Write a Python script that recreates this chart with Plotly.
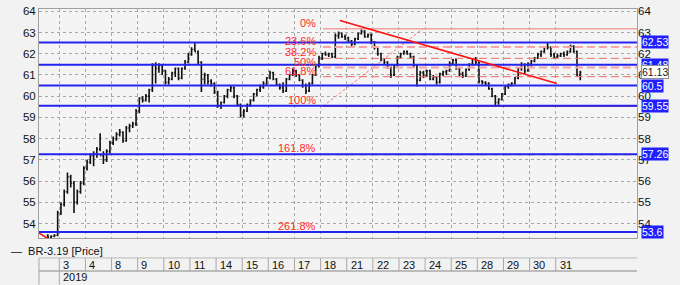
import plotly.graph_objects as go

# ---------------- data ----------------
day_labels = ["3", "4", "8", "9", "10", "11", "14", "15", "16", "17", "18",
              "21", "22", "23", "24", "25", "28", "29", "30", "31"]
year_label = "2019"
series_name = "BR-3.19 [Price]"
bars_per_day = 8

# first (partial, unlabeled) session: 4 bars, then 8 bars per labelled day
opens = [
    53.45, 53.35, 53.4, 53.45,
    54.5, 54.9, 55.5, 56.2, 55.9, 55.0, 55.5, 55.9,
    56.6, 56.9, 57.2, 57.3, 57.5, 57.2, 57.0, 57.4,
    57.8, 58.0, 58.2, 58.3, 57.9, 58.5, 58.6, 58.7,
    59.3, 59.9, 59.8, 60.0, 60.3, 61.45, 61.3, 61.45,
    61.2, 60.65, 60.8, 61.1, 61.3, 60.85, 61.3, 61.6,
    61.95, 62.2, 62.1, 61.6, 60.8, 61.0, 60.7, 60.6,
    60.2, 59.55, 59.7, 60.0, 60.3, 60.4, 60.0, 59.6,
    59.1, 59.3, 59.6, 59.8, 60.1, 60.3, 60.45, 60.6,
    60.85, 61.1, 60.8, 60.55, 60.4, 60.25, 60.8, 61.0,
    61.2, 61.0, 60.75, 60.5, 60.25, 60.6, 61.0, 61.4,
    61.8, 62.0, 61.95, 62.0, 61.85, 62.85, 62.95, 62.8,
    62.75, 62.6, 62.45, 62.7, 62.95, 63.05, 62.8, 62.9,
    62.55, 62.3, 62.0, 61.75, 61.6, 61.35, 61.0, 61.45,
    61.85, 62.0, 62.1, 62.0, 61.85, 61.45, 60.75, 61.1,
    60.95, 61.2, 60.8, 60.9, 60.65, 61.05, 61.15, 61.2,
    61.55, 61.7, 61.3, 61.05, 60.95, 61.25, 61.5, 61.75,
    61.6, 60.7, 60.65, 60.6, 60.35, 60.0, 59.7, 59.85,
    60.1, 60.45, 60.55, 60.6, 60.85, 61.3, 61.5, 61.2,
    61.5, 61.65, 61.8, 61.95, 62.1, 62.3, 62.3, 61.95,
    61.85, 61.9, 62.0, 61.95, 62.1, 62.35, 62.1, 61.0,
]
highs = [
    53.5, 53.45, 53.5, 54.6,
    55.0, 55.6, 56.4, 56.3, 56.0, 55.6, 56.0, 56.7,
    57.0, 57.3, 57.4, 57.6, 58.25, 57.4, 57.5, 57.9,
    58.1, 58.3, 58.45, 58.35, 58.6, 58.7, 58.8, 59.4,
    59.95, 60.0, 60.1, 60.35, 61.55, 61.6, 61.55, 61.5,
    61.25, 60.9, 61.15, 61.35, 61.35, 61.35, 61.7, 62.05,
    62.3, 62.5, 62.15, 61.65, 61.1, 61.05, 60.8, 60.65,
    60.25, 59.75, 60.05, 60.35, 60.5, 60.45, 60.05, 59.65,
    59.4, 59.65, 59.85, 60.15, 60.35, 60.55, 60.7, 60.9,
    61.2, 61.15, 60.85, 60.6, 60.65, 60.85, 61.05, 61.3,
    61.25, 61.05, 60.8, 60.6, 60.65, 61.05, 61.45, 61.9,
    62.05, 62.1, 62.05, 62.05, 62.95, 63.05, 63.0, 62.9,
    62.8, 62.65, 62.75, 63.0, 63.15, 63.1, 62.95, 62.95,
    62.6, 62.35, 62.05, 61.8, 61.65, 61.4, 61.5, 61.9,
    62.05, 62.15, 62.15, 62.05, 61.9, 61.5, 61.2, 61.2,
    61.25, 61.25, 61.0, 60.95, 61.1, 61.2, 61.25, 61.65,
    61.75, 61.75, 61.35, 61.15, 61.3, 61.55, 61.8, 61.85,
    61.65, 60.75, 60.7, 60.65, 60.4, 60.05, 59.9, 60.15,
    60.5, 60.6, 60.65, 60.9, 61.35, 61.6, 61.55, 61.6,
    61.7, 61.85, 62.05, 62.15, 62.35, 62.5, 62.35, 62.05,
    62.0, 62.05, 62.1, 62.15, 62.42, 62.4, 62.15, 61.2,
]
lows = [
    53.3, 53.3, 53.35, 53.4,
    54.4, 54.8, 55.4, 55.7, 54.5, 54.9, 55.4, 55.8,
    56.5, 56.8, 56.7, 57.1, 57.4, 56.8, 56.9, 57.3,
    57.7, 57.9, 58.1, 57.8, 57.85, 58.3, 58.5, 58.6,
    59.2, 59.7, 59.75, 59.7, 60.2, 60.6, 61.1, 61.0,
    60.55, 60.55, 60.75, 60.9, 60.75, 60.8, 61.25, 61.55,
    61.9, 62.1, 61.5, 60.2, 60.55, 60.55, 60.45, 60.1,
    59.45, 59.4, 59.65, 59.9, 60.2, 59.9, 59.55, 59.0,
    59.0, 59.25, 59.5, 59.75, 60.0, 60.2, 60.35, 60.5,
    60.8, 60.75, 60.5, 60.3, 60.15, 60.2, 60.75, 60.95,
    60.9, 60.7, 60.4, 60.1, 60.2, 60.55, 60.95, 61.35,
    61.7, 61.9, 61.85, 61.8, 61.8, 62.7, 62.75, 62.65,
    62.55, 62.35, 62.4, 62.65, 62.9, 62.75, 62.75, 62.45,
    62.2, 61.9, 61.65, 61.5, 61.3, 60.85, 60.95, 61.4,
    61.8, 61.95, 61.95, 61.8, 61.35, 60.45, 60.7, 60.85,
    60.9, 60.75, 60.75, 60.55, 60.6, 60.95, 61.0, 61.15,
    61.5, 61.25, 60.95, 60.85, 60.9, 61.2, 61.45, 61.5,
    60.6, 60.55, 60.5, 60.3, 59.95, 59.57, 59.6, 59.8,
    60.05, 60.35, 60.45, 60.55, 60.8, 61.2, 61.05, 61.15,
    61.4, 61.6, 61.75, 61.85, 62.05, 62.2, 61.85, 61.75,
    61.8, 61.85, 61.85, 61.9, 62.05, 62.05, 60.95, 60.75,
]
closes = [
    53.35, 53.4, 53.45, 54.5,
    54.9, 55.5, 56.2, 55.9, 55.0, 55.5, 55.9, 56.6,
    56.9, 57.2, 57.3, 57.5, 57.2, 57.0, 57.4, 57.8,
    58.0, 58.2, 58.3, 57.9, 58.5, 58.6, 58.7, 59.3,
    59.9, 59.8, 60.0, 60.3, 61.45, 61.3, 61.45, 61.2,
    60.65, 60.8, 61.1, 61.3, 60.85, 61.3, 61.6, 61.95,
    62.2, 62.1, 61.6, 60.8, 61.0, 60.7, 60.6, 60.2,
    59.55, 59.7, 60.0, 60.3, 60.4, 60.0, 59.6, 59.1,
    59.3, 59.6, 59.8, 60.1, 60.3, 60.45, 60.6, 60.85,
    61.1, 60.8, 60.55, 60.4, 60.25, 60.8, 61.0, 61.2,
    61.0, 60.75, 60.5, 60.25, 60.6, 61.0, 61.4, 61.8,
    62.0, 61.95, 62.0, 61.85, 62.85, 62.95, 62.8, 62.75,
    62.6, 62.45, 62.7, 62.95, 63.05, 62.8, 62.9, 62.55,
    62.3, 62.0, 61.75, 61.6, 61.35, 61.0, 61.45, 61.85,
    62.0, 62.1, 62.0, 61.85, 61.45, 60.75, 61.1, 60.95,
    61.2, 60.8, 60.9, 60.65, 61.05, 61.15, 61.2, 61.55,
    61.7, 61.3, 61.05, 60.95, 61.25, 61.5, 61.75, 61.6,
    60.7, 60.65, 60.6, 60.35, 60.0, 59.7, 59.85, 60.1,
    60.45, 60.55, 60.6, 60.85, 61.3, 61.5, 61.2, 61.5,
    61.65, 61.8, 61.95, 62.1, 62.3, 62.3, 61.95, 61.85,
    61.9, 62.0, 61.95, 62.1, 62.35, 62.1, 61.0, 61.13,
]

# horizontal support / resistance levels (blue)
levels = [62.53, 61.48, 60.5, 59.55, 57.26, 53.6]
# Fibonacci retracement
fib_high = 63.18
fib_low = 59.52
fib_ratios = [0.0, 0.236, 0.382, 0.5, 0.618, 1.0, 1.618, 2.618]
fib_labels = ["0%", "23.6%", "38.2%", "50%", "61.8%", "100%", "161.8%", "261.8%"]
fib_start_day = 10.09          # position (in day units) where the fib grid starts
fib_diag_end_day = 13.92
# trend lines (day position, price)
trend_start = (10.74, 63.565)
trend_end = (19.04, 60.60)
trend2_start = (-0.777, 53.55)
trend2_end = (-0.47, 53.32)
y_ticks = list(range(54, 65))

# ---------------- geometry ----------------
XMIN, XMAX = -0.777, 22.109
YMIN, YMAX = 53.319, 64.106
W, H = 680, 285
ML, MR, MT, MB = 39, 43, 5, 47
PLOT_H = H - MT - MB


def xp(day_pos):
    return (day_pos - XMIN) / (XMAX - XMIN)


def yp(pixel_y):
    return (H - MB - pixel_y) / PLOT_H


n_first = len(closes) - bars_per_day * len(day_labels)
bar_x = [-1 + (bars_per_day - n_first + i + 0.5) / bars_per_day for i in range(n_first)]
for d in range(len(day_labels)):
    for i in range(bars_per_day):
        bar_x.append(d + (i + 0.5) / bars_per_day)

FONT = "Liberation Sans, Arial, sans-serif"

fig = go.Figure()
fig.add_trace(go.Ohlc(
    x=bar_x, open=opens, high=highs, low=lows, close=closes,
    increasing=dict(line=dict(color="#111111", width=1.6)),
    decreasing=dict(line=dict(color="#111111", width=1.6)),
    tickwidth=0.35, hoverinfo="skip", showlegend=False,
))
fig.add_trace(go.Scatter(
    x=[bar_x[-1]], y=[closes[-1]], yaxis="y2", mode="markers",
    marker=dict(opacity=0), hoverinfo="skip", showlegend=False,
))

shapes = []
fib_range = fib_high - fib_low
fib_levels = [fib_high - r * fib_range for r in fib_ratios]
fib_styles = {
    "0%": dict(color="#f2a0a0", width=1.5, dash="solid"),
    "23.6%": dict(color="#f4a4a4", width=2, dash="8px,4px"),
    "38.2%": dict(color="#f06a6a", width=1, dash="8px,4px"),
    "50%": dict(color="#f4a4a4", width=2, dash="8px,4px"),
    "61.8%": dict(color="#f06a6a", width=1, dash="8px,4px"),
    "100%": dict(color="#ff2020", width=1, dash="solid"),
    "161.8%": dict(color="#f08080", width=1.5, dash="8px,4px"),
    "261.8%": dict(color="#f08080", width=1.5, dash="8px,4px"),
}
for lab, lv in zip(fib_labels, fib_levels):
    shapes.append(dict(type="line", xref="x", yref="y", x0=fib_start_day, x1=XMAX,
                       y0=lv, y1=lv, line=fib_styles[lab], layer="above"))
shapes.append(dict(type="line", xref="x", yref="y", x0=fib_start_day, y0=fib_low,
                   x1=fib_diag_end_day, y1=fib_high,
                   line=dict(color="#f08080", width=1, dash="3px,2px"), layer="above"))
for lv in levels:
    shapes.append(dict(type="line", xref="paper", yref="y", x0=0, x1=1, y0=lv, y1=lv,
                       line=dict(color="#2424f0", width=2), layer="above"))
shapes.append(dict(type="line", xref="x", yref="y", x0=trend_start[0], y0=trend_start[1],
                   x1=trend_end[0], y1=trend_end[1], line=dict(color="#ff1010", width=1.6),
                   layer="above"))
shapes.append(dict(type="line", xref="x", yref="y", x0=trend2_start[0], y0=trend2_start[1],
                   x1=trend2_end[0], y1=trend2_end[1], line=dict(color="#ff1010", width=1.6),
                   layer="above"))

# bottom date table
row1_top, row1_bot, row2_bot = yp(258.3), yp(271.7), yp(285.5)
shapes.append(dict(type="line", xref="paper", yref="paper", x0=0, x1=1, y0=row1_top, y1=row1_top,
                   line=dict(color="#b8b8b8", width=1)))
shapes.append(dict(type="line", xref="paper", yref="paper", x0=0, x1=1, y0=row1_bot, y1=row1_bot,
                   line=dict(color="#bcbcbc", width=2)))
for d in range(len(day_labels)):
    shapes.append(dict(type="line", xref="paper", yref="paper", x0=xp(d), x1=xp(d),
                       y0=row1_top, y1=row1_bot, line=dict(color="#a8a8a8", width=1)))
shapes.append(dict(type="line", xref="paper", yref="paper", x0=0, x1=0,
                   y0=row1_top, y1=row2_bot, line=dict(color="#a8a8a8", width=1)))
shapes.append(dict(type="line", xref="paper", yref="paper", x0=xp(0), x1=xp(0),
                   y0=row1_bot, y1=row2_bot, line=dict(color="#a8a8a8", width=1)))

annotations = []
for lab, lv in zip(fib_labels, fib_levels):
    annotations.append(dict(x=fib_start_day - 0.23, y=lv, xref="x", yref="y", text=lab,
                            xanchor="right", yanchor="bottom", showarrow=False,
                            font=dict(family=FONT, size=11, color="#ff2a2a"), borderpad=0,
                            yshift=-1))
for lv in levels:
    annotations.append(dict(x=1, y=lv, xref="paper", yref="y", text=f"{lv:g}",
                            xanchor="left", yanchor="middle", xshift=4, showarrow=False,
                            bgcolor="#1f1fff", borderpad=0,
                            font=dict(family=FONT, size=10.5, color="white")))
annotations.append(dict(x=1, y=closes[-1], xref="paper", yref="y", text=f"{closes[-1]:.2f}",
                        xanchor="left", yanchor="middle", xshift=4, showarrow=False,
                        bgcolor="white", bordercolor="#909090", borderwidth=1, borderpad=0,
                        font=dict(family=FONT, size=10.5, color="#202020")))
for d, lab in enumerate(day_labels):
    annotations.append(dict(x=xp(d) + 0.003, y=yp(265.3), xref="paper", yref="paper", text=lab,
                            xanchor="left", yanchor="middle", showarrow=False,
                            font=dict(family=FONT, size=11, color="#101010")))
annotations.append(dict(x=xp(0) + 0.003, y=yp(278), xref="paper", yref="paper", text=year_label,
                        xanchor="left", yanchor="middle", showarrow=False,
                        font=dict(family=FONT, size=11, color="#101010")))
annotations.append(dict(x=(9 - ML) / (W - ML - MR), y=yp(251), xref="paper", yref="paper",
                        text="—  " + series_name, xanchor="left", yanchor="middle",
                        showarrow=False, font=dict(family=FONT, size=11, color="#101010")))

fig.update_layout(
    width=W, height=H, autosize=False,
    margin=dict(l=ML, r=MR, t=MT, b=MB, pad=0),
    paper_bgcolor="#f2f2f2", plot_bgcolor="#f4f4f4",
    font=dict(family=FONT, size=11, color="#101010"),
    showlegend=False, hovermode=False,
    shapes=shapes, annotations=annotations,
    xaxis=dict(range=[XMIN, XMAX], tickvals=list(range(len(day_labels))),
               showticklabels=False, ticks="", showgrid=True, gridcolor="#a8a8a8",
               griddash="dot", gridwidth=1, zeroline=False,
               showline=True, linecolor="#a0a0a0", linewidth=1, mirror=True,
               rangeslider=dict(visible=False), fixedrange=True),
    yaxis=dict(range=[YMIN, YMAX], tickvals=y_ticks, ticks="", showgrid=True,
               gridcolor="#a8a8a8", griddash="dot", gridwidth=1, zeroline=False,
               showline=True, linecolor="#a0a0a0", linewidth=1, mirror=True,
               tickfont=dict(family=FONT, size=11.5, color="#101010"), fixedrange=True),
    yaxis2=dict(range=[YMIN, YMAX], tickvals=y_ticks, ticks="", overlaying="y", side="right",
                showgrid=False, zeroline=False, showline=False,
                tickfont=dict(family=FONT, size=11.5, color="#101010"), fixedrange=True),
)

fig.write_html("out.html", config={"displayModeBar": False})
